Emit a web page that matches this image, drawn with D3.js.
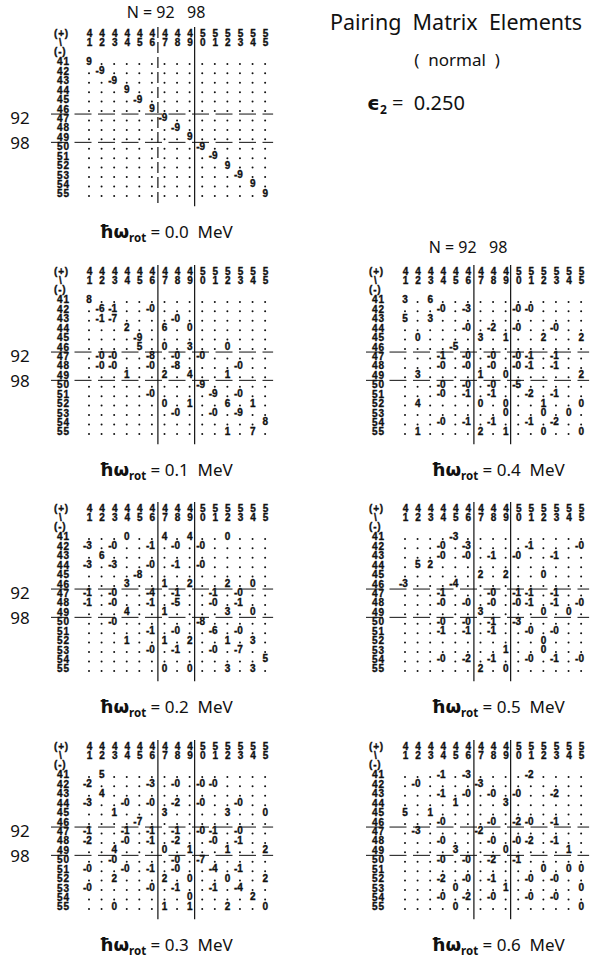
<!DOCTYPE html>
<html>
<head>
<meta charset="utf-8">
<script src="https://cdn.jsdelivr.net/npm/d3@7"></script>
<style>
  html, body { margin: 0; padding: 0; background: #fff; }
  svg { display: block; }
</style>
</head>
<body>
<svg id="fig" width="593" height="959"></svg>
<script>
// Single-particle levels (rows: minus parity, columns: plus parity)
const states = [41, 42, 43, 44, 45, 46, 47, 48, 49, 50, 51, 52, 53, 54, 55];
const shellGaps = [46, 49];          // the lines after these levels mark N = 92 and N = 98
const gapLabels = ["92", "98"];
const omegaValues = ["0.0", "0.1", "0.2", "0.3", "0.4", "0.5", "0.6"];

// Pairing matrix elements, one string per row level, "." = negligible
const w00 = [
  "9 . . . . . . . . . . . . . .",
  ". -9 . . . . . . . . . . . . .",
  ". . -9 . . . . . . . . . . . .",
  ". . . 9 . . . . . . . . . . .",
  ". . . . -9 . . . . . . . . . .",
  ". . . . . 9 . . . . . . . . .",
  ". . . . . . -9 . . . . . . . .",
  ". . . . . . . -9 . . . . . . .",
  ". . . . . . . . 9 . . . . . .",
  ". . . . . . . . . -9 . . . . .",
  ". . . . . . . . . . -9 . . . .",
  ". . . . . . . . . . . 9 . . .",
  ". . . . . . . . . . . . -9 . .",
  ". . . . . . . . . . . . . 9 .",
  ". . . . . . . . . . . . . . 9"
];
const w01 = [
  "8 . . . . . . . . . . . . . .",
  ". -6 -1 . . -0 . . . . . . . . .",
  ". -1 -7 . . . . -0 . . . . . . .",
  ". . . 2 . . 6 . 0 . . . . . .",
  ". . . . -9 . . . . . . . . . .",
  ". . . . 5 . 0 . 3 . . 0 . . .",
  ". -0 -0 . . -8 . -0 . -0 . . . . .",
  ". -0 -0 . . -0 . -8 . . . . -0 . .",
  ". . . 1 . . 2 . 4 . . 1 . . .",
  ". . . . . . . . . -9 . . . . .",
  ". . . . . -0 . . . . -9 . -0 . .",
  ". . . . . . 0 . 1 . . 6 . 1 .",
  ". . . . . . . -0 . . -0 . -9 . .",
  ". . . . . . . . . . . . . . 8",
  ". . . . . . . . . . . 1 . 7 ."
];
const w02 = [
  ". . . 0 . . 4 . 4 . . 0 . . .",
  "-3 . -0 . . -1 . -0 . -0 . . . . .",
  ". 6 . . . . . . . . . . . . .",
  "-3 . -3 . . -0 . -1 . -0 . . . . .",
  ". . . . -8 . . . . . . . . . .",
  ". . . 3 . . 1 . 2 . . 2 . 0 .",
  "-1 . -0 . . -4 . -1 . . -1 . -0 . .",
  "-1 . -0 . . -1 . -5 . . -0 . -1 . .",
  ". . . 4 . . 1 . . . . 3 . 0 .",
  ". . -0 . . . . . . -8 . . . . .",
  ". . . . . -1 . -0 . . -6 . -0 . .",
  ". . . 1 . . 1 . 2 . . 1 . 3 .",
  ". . . . . -0 . -1 . . -0 . -7 . .",
  ". . . . . . . . . . . . . . 5",
  ". . . . . . 0 . 0 . . 3 . 3 ."
];
const w03 = [
  ". 5 . . . . . . . . . . . . .",
  "-2 . . . . -3 . -0 . -0 -0 . . . .",
  ". 4 . . . . . . . . . . . . .",
  "-3 . . -0 . -0 . -2 . -0 . . -0 . .",
  ". . 1 . . . 3 . . . . 3 . . 0",
  ". . . . -7 . . . . . . . . . .",
  "-1 . . -1 . -1 . -1 . -0 -1 . -0 . .",
  "-2 . . -0 . -1 . -2 . . -0 . -1 . .",
  ". . 4 . . . 0 . 1 . . 1 . . 2",
  ". . -0 . . . . -0 . -7 . . . . .",
  "-0 . . -0 . -1 . -0 . . -4 . -1 . .",
  ". . 2 . . . 2 . 0 . . 0 . . 2",
  "-0 . . . . -0 . -1 . . -1 . -4 . .",
  ". . . . . . . . 0 . . . . 2 .",
  ". . 0 . . . 1 . 1 . . 2 . . 0"
];
const w04 = [
  "3 . 6 . . . . . . . . . . . .",
  ". . . -0 . -3 . . . -0 -0 . . . .",
  "5 . 3 . . . . . . . . . . . .",
  ". . . . . -0 . -2 . -0 . . -0 . .",
  ". 0 . . . . 3 . 1 . . 2 . . 2",
  ". . . . -5 . . . . . . . . . .",
  ". . . -1 . -0 . -0 . -0 -1 . -1 . .",
  ". . . -0 . -0 . -0 . -0 -1 . -1 . .",
  ". 3 . . . . 1 . 0 . . . . . 2",
  ". . . -0 . -0 . -0 . -5 . . . . .",
  ". . . -0 . -1 . -1 . . -2 . -1 . .",
  ". 4 . . . . 0 . 0 . . 1 . . 0",
  ". . . . . . . . 0 . . 0 . 0 .",
  ". . . -0 . -1 . -1 . . -1 . -2 . .",
  ". 1 . . . . 2 . 1 . . 0 . . 0"
];
const w05 = [
  ". . . . -3 . . . . . . . . . .",
  ". . . -0 . -3 . . . . -1 . . . -0",
  ". . . -0 . -0 . -1 . -0 . . -1 . .",
  ". 5 2 . . . . . . . . . . . .",
  ". . . . . . 2 . 2 . . 0 . . .",
  "-3 . . . -4 . . . . . . . . . .",
  ". . . -1 . . . -0 . -1 -1 . -1 . .",
  ". . . -0 . -0 . -0 . -0 -1 . -1 . -0",
  ". . . . . . 3 . . . . 0 . 0 .",
  ". . . -0 . -0 . -1 . -3 . . . . .",
  ". . . -1 . -1 . -1 . . -0 . -0 . .",
  ". . . . . . . . . . . 0 . . .",
  ". . . . . . . . 1 . . 0 . . .",
  ". . . -0 . -2 . -1 . . -0 . -1 . -0",
  ". . . . . . 2 . 0 . . . . . ."
];
const w06 = [
  ". . . -1 . -3 . . . . -2 . . . .",
  ". -0 . . . . -3 . . . . . . . .",
  ". . . -1 . -0 . -0 . -0 . . -2 . .",
  ". . . . 1 . . . 3 . . . . . .",
  "5 . 1 . . . . . . . . . . . .",
  ". . . -0 . . . -0 . -2 -0 . -1 . .",
  ". -3 . . . . -2 . . . . . . . .",
  ". . . -0 . . . -0 . -0 -2 . -1 . .",
  ". . . . 3 . . . 0 . . . . 1 .",
  ". . . -0 . -0 . -2 . -1 . . . . .",
  ". . . . . . . . . . . 0 . 0 0",
  ". . . -2 . -0 . -1 . . -0 . -0 . .",
  ". . . . 0 . . . 1 . . . . . 0",
  ". . . -0 . -2 . -0 . . -0 . -0 . .",
  ". . . . 0 . . . . . . . . . 0"
];
const matrices = [w00, w01, w02, w03, w04, w05, w06];

// ---- page layout ----
const DX = 12.58, DY = 9.43;
const columnsX = [{ label: 57, first: 89, title: 166 }, { label: 372, first: 405, title: 498 }];
const tiersY = [33, 271, 508, 746];
// panel slot for each rotational frequency: [column, tier]
const slots = [[0, 0], [0, 1], [0, 2], [0, 3], [1, 1], [1, 2], [1, 3]];

const INK = "#111";
const CELL_FONT = "'Liberation Sans', Arial, sans-serif";
const CELL_SIZE = 10;
const TITLE_FONT = "'Noto Sans', 'DejaVu Sans', sans-serif";

const svg = d3.select("#fig");
svg.append("rect").attr("width", 593).attr("height", 959).attr("fill", "#fff");

// heavy printer-style lettering for the matrix tables
function cellText(sel) {
  return sel.attr("font-family", CELL_FONT).attr("font-size", CELL_SIZE)
    .attr("font-weight", "bold").attr("fill", INK)
    .attr("stroke", INK).attr("stroke-width", 0.35);
}

function drawPanel(rows, omega, slot, idx) {
  const cx = columnsX[slot[0]], top = tiersY[slot[1]];
  const g = svg.append("g").attr("class", "panel");

  const x = d3.scalePoint().domain(states).range([cx.first, cx.first + DX * (states.length - 1)]);
  const y = d3.scalePoint().domain(states).range([top + 3 * DY, top + 17 * DY]);
  const base = 3.6; // half cap height, for placing text baselines on row centres

  // column header: tens digit over units digit
  const tens = d3.axisTop(x).tickSize(0).tickPadding(0).tickFormat(s => String(Math.floor(s / 10)));
  const units = d3.axisTop(x).tickSize(0).tickPadding(0).tickFormat(s => String(s % 10));
  [[tens, top + base], [units, top + DY + base]].forEach(([ax, yy]) => {
    const a = g.append("g").attr("transform", `translate(0,${yy})`).call(ax);
    a.select(".domain").remove();
    cellText(a.selectAll("text"));
  });

  // row labels
  const left = d3.axisLeft(y).tickSize(0).tickPadding(0);
  const la = g.append("g").attr("transform", `translate(${cx.label},0)`).call(left);
  la.select(".domain").remove();
  cellText(la.selectAll("text").attr("text-anchor", "start").attr("x", 0).attr("dy", null).attr("y", base))
    .attr("letter-spacing", 1);

  // corner markers
  const corner = [["(+)", top, -3], ["\\", top + DY, 2], ["(-)", top + 2 * DY, -3]];
  cellText(g.selectAll("text.corner").data(corner).join("text").attr("class", "corner")
    .attr("x", d => cx.label + d[2]).attr("y", d => d[1] + base)
    .attr("letter-spacing", 0.8).style("white-space", "pre").text(d => d[0]));

  // shell-gap separators
  const yEnd = y(states[states.length - 1]) + 13;
  const vx = [x(shellGaps[0]) + 6, x(shellGaps[1]) + 5];
  g.selectAll("line.vsep").data(vx).join("line").attr("class", "vsep")
    .attr("x1", d => d).attr("x2", d => d).attr("y1", top - 6).attr("y2", yEnd)
    .attr("stroke", INK).attr("stroke-width", 1.2)
    .attr("stroke-dasharray", (d, i) => (idx === 0 && i === 0) ? "11 4" : null);

  const hy = shellGaps.map(s => (y(s) + y(s + 1)) / 2 + 0.9);
  g.selectAll("line.hsep").data(hy).join("line").attr("class", "hsep")
    .attr("x1", cx.label - 6).attr("x2", x(states[states.length - 1]) + 8)
    .attr("y1", d => d).attr("y2", d => d)
    .attr("stroke", INK).attr("stroke-width", 1)
    .attr("stroke-dasharray", "17 6.5");

  // matrix cells
  const cells = [];
  rows.forEach((line, i) => {
    line.trim().split(/\s+/).forEach((v, j) => cells.push({ r: states[i], c: states[j], v }));
  });
  g.selectAll("circle.dot").data(cells.filter(d => d.v === ".")).join("circle").attr("class", "dot")
    .attr("cx", d => x(d.c)).attr("cy", d => y(d.r) + base - 1).attr("r", 1).attr("fill", INK);
  cellText(g.selectAll("text.val").data(cells.filter(d => d.v !== ".")).join("text").attr("class", "val")
    .attr("x", d => x(d.c) + 2.9).attr("y", d => y(d.r) + base)
    .attr("text-anchor", "end").text(d => d.v));

  // neutron numbers at the gaps (left column only)
  if (slot[0] === 0) {
    g.selectAll("text.gap").data(gapLabels).join("text").attr("class", "gap")
      .attr("x", 20).attr("y", (d, i) => (i === 0 ? y(47) : y(50) - 3) + 6)
      .attr("text-anchor", "middle").attr("font-family", TITLE_FONT).attr("font-size", 17)
      .attr("fill", INK).text(d => d);
  }

  // rotational frequency caption
  const cap = g.append("text").attr("x", cx.title).attr("y", top + 205)
    .attr("text-anchor", "middle").attr("fill", INK).attr("font-family", TITLE_FONT);
  cap.append("tspan").attr("font-family", "'DejaVu Sans', sans-serif").attr("font-weight", "bold")
    .attr("font-size", 18).text("\u0127\u03C9");
  cap.append("tspan").attr("font-weight", "bold").attr("font-size", 11.5).attr("dy", 4).text("rot");
  cap.append("tspan").attr("font-size", 17).attr("dy", -4).style("white-space", "pre")
    .text(" = " + omega + "  MeV");
}

matrices.forEach((m, i) => drawPanel(m, omegaValues[i], slots[i], i));

// neutron-number headings
const nHead = [[166, 18], [468, 253]];
svg.selectAll("text.nhead").data(nHead).join("text").attr("class", "nhead")
  .attr("x", d => d[0]).attr("y", d => d[1]).attr("text-anchor", "middle")
  .attr("font-family", TITLE_FONT).attr("font-size", 16).attr("fill", INK)
  .style("white-space", "pre").text("N = " + gapLabels[0] + "   " + gapLabels[1]);

// figure title block
svg.append("text").attr("x", 456).attr("y", 30).attr("text-anchor", "middle")
  .attr("font-family", TITLE_FONT).attr("font-size", 21.5).attr("fill", INK)
  .style("white-space", "pre").text("Pairing  Matrix  Elements");
svg.append("text").attr("x", 457).attr("y", 66).attr("text-anchor", "middle")
  .attr("font-family", TITLE_FONT).attr("font-size", 17).attr("fill", INK)
  .style("white-space", "pre").text("(  normal  )");
const eps = svg.append("text").attr("x", 367).attr("y", 110)
  .attr("font-family", TITLE_FONT).attr("font-size", 20).attr("fill", INK);
eps.append("tspan").attr("font-family", "'DejaVu Sans', sans-serif").attr("font-weight", "bold").text("\u03F5");
eps.append("tspan").attr("font-size", 12).attr("font-weight", "bold").attr("dy", 4).text("2");
eps.append("tspan").attr("dy", -4).style("white-space", "pre").text(" =  0.250");
</script>
</body>
</html>
